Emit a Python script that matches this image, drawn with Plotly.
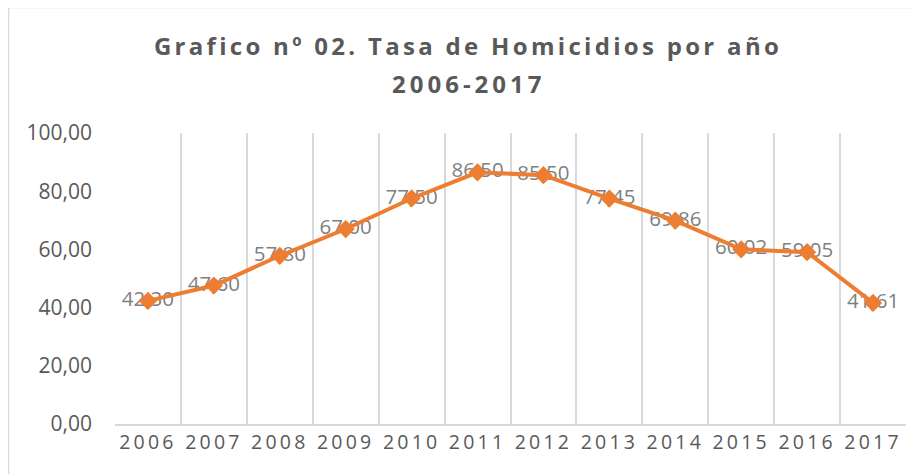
import plotly.graph_objects as go

years = ["2006", "2007", "2008", "2009", "2010", "2011", "2012", "2013", "2014", "2015", "2016", "2017"]
tasa = [42.30, 47.60, 57.80, 67.00, 77.50, 86.50, 85.50, 77.45, 69.86, 60.02, 59.05, 41.61]
y_ticks = [0, 20, 40, 60, 80, 100]
title_line1 = "Grafico nº 02. Tasa de Homicidios por año"
title_line2 = "2006-2017"

OFF = 8  # page body margin of the html page
W, H = 922 - OFF, 474 - OFF
L, R, T, B = 115 - OFF, 16, 133 - OFF, 50
pw, ph = W - L - R, H - T - B

def px_x(px):
    return (px - OFF - L) / pw

def px_y(py):
    return 1 - (py - OFF - T) / ph

ORANGE = "#ED7D31"
GRID = "#d9d9d9"
DARK = "#595959"

fig = go.Figure()
# data labels (drawn beneath the line and markers)
fig.add_trace(go.Scatter(
    x=years, y=tasa, mode="text", texttemplate="%{y:.2f}",
    textposition="middle center",
    textfont=dict(family="Open Sans", size=20.5, color="#7f7f7f"),
    hoverinfo="skip", showlegend=False,
))
fig.add_trace(go.Scatter(
    x=years, y=tasa, mode="lines+markers",
    line=dict(color=ORANGE, width=4),
    marker=dict(symbol="diamond", size=14, color=ORANGE),
    showlegend=False,
))

fig.update_layout(
    width=W, height=H,
    margin=dict(l=L, r=R, t=T, b=B),
    paper_bgcolor="white", plot_bgcolor="white",
    separators=",.",
    title=dict(
        text=title_line1, x=px_x(468), xref="paper", xanchor="center",
        yref="container", y=1 - (47 - OFF) / H, yanchor="middle",
        font=dict(family="Open Sans", size=24, color=DARK, weight="bold"),
    ),
    annotations=[dict(
        text=title_line2, xref="paper", yref="paper",
        x=px_x(469), y=px_y(84), xanchor="center", yanchor="middle",
        showarrow=False,
        font=dict(family="Open Sans", size=24, color=DARK, weight="bold"),
    )],
    shapes=[dict(
        type="rect", xref="paper", yref="paper",
        x0=px_x(8.5), x1=px_x(960), y0=px_y(500), y1=px_y(7.5),
        line=dict(color=GRID, width=1.5), fillcolor="rgba(0,0,0,0)", layer="below",
    )],
)

fig.update_xaxes(
    type="category", range=[-0.5, 11.5], tickson="boundaries",
    showgrid=True, gridcolor=GRID, gridwidth=1.5,
    showline=True, linecolor=GRID, linewidth=1.5,
    ticks="", tickfont=dict(family="Open Sans", size=19.5, color=DARK),
    zeroline=False, fixedrange=True,
)
fig.update_yaxes(
    range=[0, 100], tickvals=y_ticks, tickformat=".2f",
    showgrid=False, zeroline=False, showline=False, ticks="",
    ticklabelstandoff=22,
    tickfont=dict(family="Open Sans", size=21, color=DARK),
    fixedrange=True,
)

post = """
var gd = document.getElementById('{plot_id}');
function spacing(){
  document.querySelectorAll('.gtitle').forEach(function(e){e.style.letterSpacing='3.3px';});
  document.querySelectorAll('.annotation-text').forEach(function(e){e.style.letterSpacing='4px';});
  document.querySelectorAll('.xtick text').forEach(function(e){e.style.letterSpacing='3.2px';});
}
spacing();
if (gd && gd.on) { gd.on('plotly_afterplot', spacing); }
"""

fig.write_html("out.html", post_script=post, config={"displayModeBar": False})
